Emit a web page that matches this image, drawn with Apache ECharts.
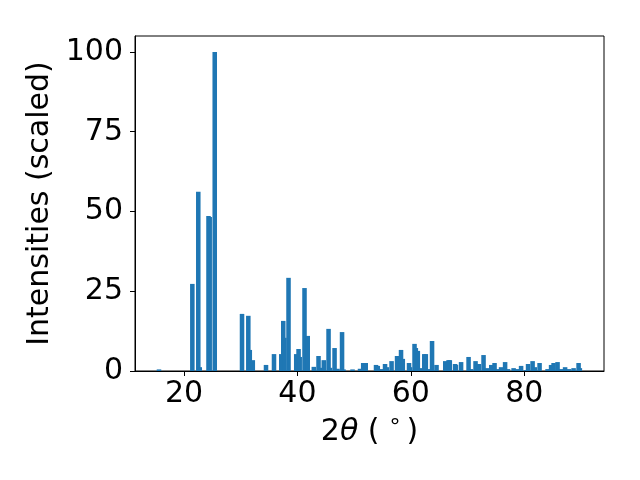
<!DOCTYPE html>
<html>
<head>
<meta charset="utf-8">
<script src="https://cdn.jsdelivr.net/npm/echarts@6/dist/echarts.min.js"></script>
<style>html,body{margin:0;padding:0;background:#fff}#c{width:640px;height:480px}</style>
</head>
<body>
<div id="c"></div>
<script>
var twoTheta = [15.59, 21.47, 22.52, 22.78, 24.32, 24.53, 25.42, 30.23, 31.34, 31.6, 32.13, 34.46, 35.87, 37.15, 37.5, 37.71, 38.43, 39.79, 40.2, 40.4, 41.25, 41.82, 42.89, 43.72, 44.34, 44.65, 45.49, 45.75, 46.55, 47.07, 47.87, 48.13, 49.72, 51.04, 51.6, 52.05, 53.86, 54.17, 54.83, 55.45, 55.77, 56.6, 57.57, 58.27, 58.58, 59.68, 59.86, 60.65, 60.88, 61.23, 61.58, 62.37, 62.64, 63.2, 63.74, 64.53, 66.07, 66.65, 66.87, 67.8, 67.95, 68.86, 70.18, 70.62, 71.41, 71.99, 72.82, 73.44, 74.18, 74.76, 75.3, 75.91, 76.62, 77.14, 78.12, 78.73, 79.44, 80.32, 80.67, 81.47, 81.86, 82.7, 84.11, 84.73, 85.17, 85.87, 86.49, 87.2, 87.9, 88.7, 89.58, 89.8];
var intensity = [0.5, 27.3, 56.2, 1.2, 48.6, 48.3, 100, 17.9, 17.3, 6.6, 3.4, 1.9, 5.3, 5.3, 15.7, 10.4, 29.2, 5.3, 6.9, 4.4, 26.0, 11.0, 1.3, 4.7, 1.0, 3.4, 13.2, 1.0, 7.2, 0.7, 12.2, 0.5, 0.5, 0.7, 2.5, 2.5, 1.9, 1.6, 0.6, 2.2, 1.2, 3.1, 4.7, 6.6, 3.8, 2.5, 1.2, 8.5, 7.2, 6.3, 0.9, 5.3, 5.3, 0.6, 9.4, 1.9, 3.1, 3.4, 3.4, 2.2, 1.9, 2.8, 4.4, 0.6, 3.1, 2.2, 5.0, 0.9, 1.9, 2.5, 0.6, 1.2, 2.8, 0.6, 0.9, 0.6, 1.6, 0.3, 2.2, 3.1, 1.2, 2.5, 0.6, 1.9, 2.5, 2.8, 0.6, 1.2, 0.6, 0.9, 2.5, 0.9];
var xTicks = [20, 40, 60, 80];
var yTicks = [0, 25, 50, 75, 100];

var BAR_W = 0.8;
var data = twoTheta.map(function (x, i) { return [x, intensity[i]]; });

var chart = echarts.init(document.getElementById('c'), null, {renderer: 'canvas'});
var font = 'DejaVu Sans';
var FS = 30;
chart.setOption({
  animation: false,
  backgroundColor: '#fff',
  grid: {left: 135, right: 36, top: 36, bottom: 109, show: true, borderColor: '#000', borderWidth: 1, backgroundColor: 'transparent'},
  xAxis: {
    type: 'value', min: 11.36, max: 94.06,
    axisLine: {show: true, onZero: false, lineStyle: {color: '#000', width: 1}},
    axisTick: {show: true, inside: false, length: 5, lineStyle: {color: '#000', width: 1}, customValues: xTicks},
    axisLabel: {color: '#000', fontFamily: font, fontSize: FS, margin: 8, customValues: xTicks},
    splitLine: {show: false},
    name: '{a|2}{b|θ}{a| (}{c|°}{a|)}',
    nameLocation: 'middle', nameGap: 46,
    nameTextStyle: {
      color: '#000', fontFamily: font, fontSize: FS,
      rich: {
        a: {fontFamily: font, fontSize: FS, color: '#000'},
        b: {fontFamily: font, fontSize: FS, fontStyle: 'italic', color: '#000'},
        c: {fontFamily: font, fontSize: 22, color: '#000', padding: [0, 6, 8, 10]}
      }
    }
  },
  yAxis: {
    type: 'value', min: 0, max: 105,
    axisLine: {show: true, lineStyle: {color: '#000', width: 1}},
    axisTick: {show: true, inside: false, length: 5, lineStyle: {color: '#000', width: 1}, customValues: yTicks},
    axisLabel: {color: '#000', fontFamily: font, fontSize: FS, margin: 12, customValues: yTicks},
    splitLine: {show: false},
    name: 'Intensities (scaled)',
    nameLocation: 'middle', nameGap: 69, nameRotate: 90,
    nameTextStyle: {color: '#000', fontFamily: font, fontSize: FS}
  },
  series: [{
    type: 'custom',
    clip: true,
    data: data,
    encode: {x: 0, y: 1},
    renderItem: function (params, api) {
      var x = api.value(0), h = api.value(1);
      var p0 = api.coord([x - BAR_W / 2, h]);
      var p1 = api.coord([x + BAR_W / 2, 0]);
      return {
        type: 'rect',
        shape: {x: p0[0], y: p0[1], width: p1[0] - p0[0], height: p1[1] - p0[1]},
        style: {fill: '#1f77b4'}
      };
    }
  }]
});
</script>
</body>
</html>
